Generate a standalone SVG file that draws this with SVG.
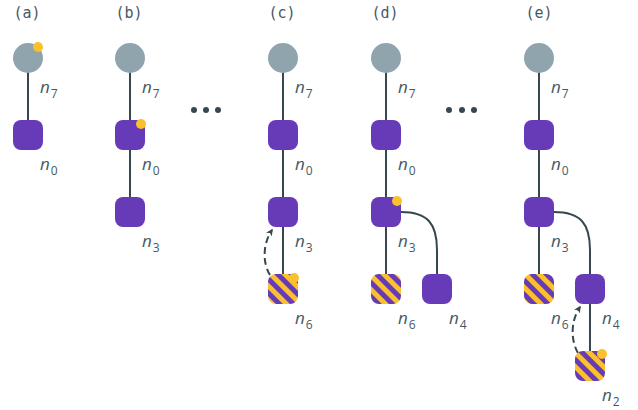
<svg xmlns="http://www.w3.org/2000/svg" width="638" height="410" viewBox="0 0 638 410">
<defs>
<pattern id="stripes" patternUnits="userSpaceOnUse" width="10" height="10" patternTransform="rotate(45)">
<rect x="0" y="0" width="10" height="10" fill="#673ab7"/>
<rect x="0" y="0" width="10" height="5" fill="#fbc02d"/>
</pattern>
<marker id="arr" viewBox="0 0 10 10" refX="8" refY="5" markerWidth="7" markerHeight="7" orient="auto" markerUnits="userSpaceOnUse">
<path d="M0,0 L10,5 L0,10 L3,5 Z" fill="#37474f"/>
</marker>
</defs>
<style>
.title{font-family:"DejaVu Sans Mono","Liberation Mono",monospace;font-size:15px;fill:#455a64;text-anchor:middle}
.lbl{font-family:"Open Sans","DejaVu Sans",sans-serif;font-size:17px;font-style:italic;fill:#455a64}
.sub{font-style:normal;font-size:12px}
.root{fill:#90a4ae}
.sq{fill:#673ab7}
.st{fill:url(#stripes)}
.dot{fill:#fbc02d}
.edge{stroke:#37474f;stroke-width:2;fill:none}
.dash{stroke:#37474f;stroke-width:2;fill:none;stroke-dasharray:7 4}
.ell{fill:#37474f}
</style>

<g id="titles">
<text class="title" x="27" y="18">(a)</text>
<text class="title" x="129" y="18">(b)</text>
<text class="title" x="282" y="18">(c)</text>
<text class="title" x="385" y="18">(d)</text>
<text class="title" x="539" y="18">(e)</text>
</g>

<g id="connectors">
<line class="edge" x1="28" y1="58" x2="28" y2="135"/>
<line class="edge" x1="130" y1="58" x2="130" y2="212"/>
<line class="edge" x1="283" y1="58" x2="283" y2="289"/>
<line class="edge" x1="386" y1="58" x2="386" y2="289"/>
<path class="edge" d="M401 212 C428 212 437 224 437 250 L437 289"/>
<line class="edge" x1="539" y1="58" x2="539" y2="289"/>
<path class="edge" d="M554 212 C581 212 590 224 590 250 L590 366"/>
<path class="dash" d="M270 275 C263 264 262 245 272 230" marker-end="url(#arr)"/>
<path class="dash" d="M578 353 C571 341 570 322 580 307" marker-end="url(#arr)"/>
</g>

<g id="ellipsis1"><circle class="ell" cx="194" cy="110" r="3"/><circle class="ell" cx="206" cy="110" r="3"/><circle class="ell" cx="218" cy="110" r="3"/></g>
<g id="ellipsis2"><circle class="ell" cx="449" cy="110" r="3"/><circle class="ell" cx="462" cy="110" r="3"/><circle class="ell" cx="474" cy="110" r="3"/></g>

<!-- (a) -->
<g id="a-n7"><circle class="root" cx="28" cy="58" r="15"/><circle class="dot" cx="38" cy="47" r="5"/><text class="lbl" x="40" y="93">n<tspan class="sub" dx="1" dy="5">7</tspan></text></g>
<g id="a-n0"><rect class="sq" x="13" y="120" width="30" height="30" rx="8"/><text class="lbl" x="40" y="170">n<tspan class="sub" dx="1" dy="5">0</tspan></text></g>

<!-- (b) -->
<g id="b-n7"><circle class="root" cx="130" cy="58" r="15"/><text class="lbl" x="142" y="93">n<tspan class="sub" dx="1" dy="5">7</tspan></text></g>
<g id="b-n0"><rect class="sq" x="115" y="120" width="30" height="30" rx="8"/><circle class="dot" cx="141" cy="124" r="5"/><text class="lbl" x="142" y="170">n<tspan class="sub" dx="1" dy="5">0</tspan></text></g>
<g id="b-n3"><rect class="sq" x="115" y="197" width="30" height="30" rx="8"/><text class="lbl" x="142" y="247">n<tspan class="sub" dx="1" dy="5">3</tspan></text></g>

<!-- (c) -->
<g id="c-n7"><circle class="root" cx="283" cy="58" r="15"/><text class="lbl" x="295" y="93">n<tspan class="sub" dx="1" dy="5">7</tspan></text></g>
<g id="c-n0"><rect class="sq" x="268" y="120" width="30" height="30" rx="8"/><text class="lbl" x="295" y="170">n<tspan class="sub" dx="1" dy="5">0</tspan></text></g>
<g id="c-n3"><rect class="sq" x="268" y="197" width="30" height="30" rx="8"/><text class="lbl" x="295" y="247">n<tspan class="sub" dx="1" dy="5">3</tspan></text></g>
<g id="c-n6"><rect class="st" x="268" y="274" width="30" height="30" rx="8"/><circle class="dot" cx="294" cy="278" r="5"/><text class="lbl" x="295" y="324">n<tspan class="sub" dx="1" dy="5">6</tspan></text></g>

<!-- (d) -->
<g id="d-n7"><circle class="root" cx="386" cy="58" r="15"/><text class="lbl" x="398" y="93">n<tspan class="sub" dx="1" dy="5">7</tspan></text></g>
<g id="d-n0"><rect class="sq" x="371" y="120" width="30" height="30" rx="8"/><text class="lbl" x="398" y="170">n<tspan class="sub" dx="1" dy="5">0</tspan></text></g>
<g id="d-n3"><rect class="sq" x="371" y="197" width="30" height="30" rx="8"/><circle class="dot" cx="397" cy="201" r="5"/><text class="lbl" x="398" y="247">n<tspan class="sub" dx="1" dy="5">3</tspan></text></g>
<g id="d-n6"><rect class="st" x="371" y="274" width="30" height="30" rx="8"/><text class="lbl" x="398" y="324">n<tspan class="sub" dx="1" dy="5">6</tspan></text></g>
<g id="d-n4"><rect class="sq" x="422" y="274" width="30" height="30" rx="8"/><text class="lbl" x="449" y="324">n<tspan class="sub" dx="1" dy="5">4</tspan></text></g>

<!-- (e) -->
<g id="e-n7"><circle class="root" cx="539" cy="58" r="15"/><text class="lbl" x="551" y="93">n<tspan class="sub" dx="1" dy="5">7</tspan></text></g>
<g id="e-n0"><rect class="sq" x="524" y="120" width="30" height="30" rx="8"/><text class="lbl" x="551" y="170">n<tspan class="sub" dx="1" dy="5">0</tspan></text></g>
<g id="e-n3"><rect class="sq" x="524" y="197" width="30" height="30" rx="8"/><text class="lbl" x="551" y="247">n<tspan class="sub" dx="1" dy="5">3</tspan></text></g>
<g id="e-n6"><rect class="st" x="524" y="274" width="30" height="30" rx="8"/><text class="lbl" x="551" y="324">n<tspan class="sub" dx="1" dy="5">6</tspan></text></g>
<g id="e-n4"><rect class="sq" x="575" y="274" width="30" height="30" rx="8"/><text class="lbl" x="602" y="324">n<tspan class="sub" dx="1" dy="5">4</tspan></text></g>
<g id="e-n2"><rect class="st" x="575" y="351" width="30" height="30" rx="8"/><circle class="dot" cx="602" cy="354" r="5"/><text class="lbl" x="602" y="401">n<tspan class="sub" dx="1" dy="5">2</tspan></text></g>
</svg>
